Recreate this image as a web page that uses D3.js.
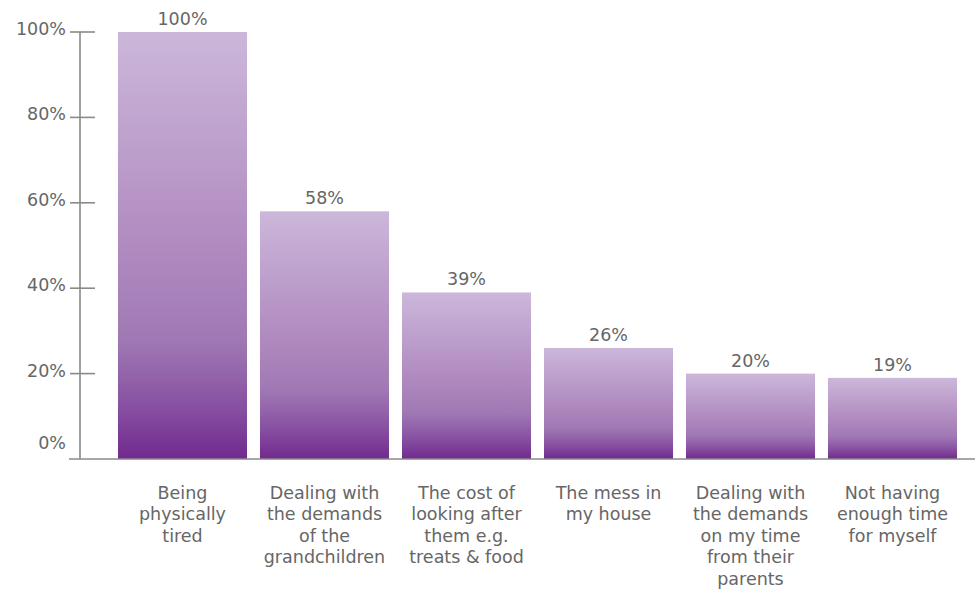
<!DOCTYPE html>
<html>
<head>
<meta charset="utf-8">
<script src="https://cdn.jsdelivr.net/npm/d3@7"></script>
<style>
  html, body { margin: 0; padding: 0; background: #fff; }
  svg { display: block; }
  text { font-family: "DejaVu Sans", "Noto Sans", sans-serif; fill: #666; }
</style>
</head>
<body>
<svg id="chart" width="975" height="589"></svg>
<script>
// Reasons given, one bar each
const categories = [
  ["Being", "physically", "tired"],
  ["Dealing with", "the demands", "of the", "grandchildren"],
  ["The cost of", "looking after", "them e.g.", "treats & food"],
  ["The mess in", "my house"],
  ["Dealing with", "the demands", "on my time", "from their", "parents"],
  ["Not having", "enough time", "for myself"]
];
const values = [100, 58, 39, 26, 20, 19];
const yTicks = [0, 20, 40, 60, 80, 100];

const svg = d3.select("#chart");
const W = 975;
const axisX = 80, baseY = 459, topY = 32;
const fs = 17.5;

const x = d3.scaleBand()
  .domain(d3.range(categories.length))
  .range([111.5, 963.5])
  .paddingInner(13 / 142)
  .paddingOuter(6.5 / 142);

const y = d3.scaleLinear().domain([0, 100]).range([baseY, topY]);

// vertical gradient applied to each bar's own box
const defs = svg.append("defs");
const grad = defs.append("linearGradient")
  .attr("id", "barGrad")
  .attr("x1", 0).attr("y1", 0).attr("x2", 0).attr("y2", 1);
[[0, "#ccb7da"], [0.5, "#b08bc0"], [0.72, "#a079b4"], [0.86, "#8a55a4"], [1, "#712a8e"]]
  .forEach(([o, c]) => grad.append("stop").attr("offset", o).attr("stop-color", c));

// bars
svg.append("g").selectAll("rect")
  .data(values)
  .join("rect")
  .attr("x", (d, i) => x(i))
  .attr("y", d => y(d))
  .attr("width", x.bandwidth())
  .attr("height", d => baseY - y(d))
  .attr("fill", "url(#barGrad)");

// value labels
svg.append("g").selectAll("text")
  .data(values)
  .join("text")
  .attr("x", (d, i) => x(i) + x.bandwidth() / 2)
  .attr("y", d => y(d) - 7)
  .attr("text-anchor", "middle")
  .attr("font-size", fs)
  .text(d => d + "%");

// y axis line, ticks and labels
const axis = svg.append("g").attr("stroke", "#8a8a8a").attr("stroke-width", 1.6);
axis.append("line").attr("x1", axisX).attr("x2", axisX).attr("y1", y(100)).attr("y2", baseY);
axis.append("line").attr("x1", 69).attr("x2", W).attr("y1", baseY).attr("y2", baseY);
axis.selectAll("line.tick")
  .data(yTicks.filter(t => t > 0))
  .join("line")
  .attr("class", "tick")
  .attr("x1", 70).attr("x2", 95)
  .attr("y1", d => y(d)).attr("y2", d => y(d));

svg.append("g").selectAll("text")
  .data(yTicks)
  .join("text")
  .attr("x", 66)
  .attr("y", d => y(d) + (d === 0 ? -10 : 3))
  .attr("text-anchor", "end")
  .attr("font-size", fs)
  .text(d => d + "%");

// category labels, wrapped
const cat = svg.append("g").selectAll("text")
  .data(categories)
  .join("text")
  .attr("text-anchor", "middle")
  .attr("font-size", fs)
  .attr("x", (d, i) => x(i) + x.bandwidth() / 2)
  .attr("y", 498.5);
cat.selectAll("tspan")
  .data((d, i) => d.map(s => ({ s, cx: x(i) + x.bandwidth() / 2 })))
  .join("tspan")
  .attr("x", d => d.cx)
  .attr("dy", (d, j) => j === 0 ? 0 : 21.5)
  .text(d => d.s);
</script>
</body>
</html>
